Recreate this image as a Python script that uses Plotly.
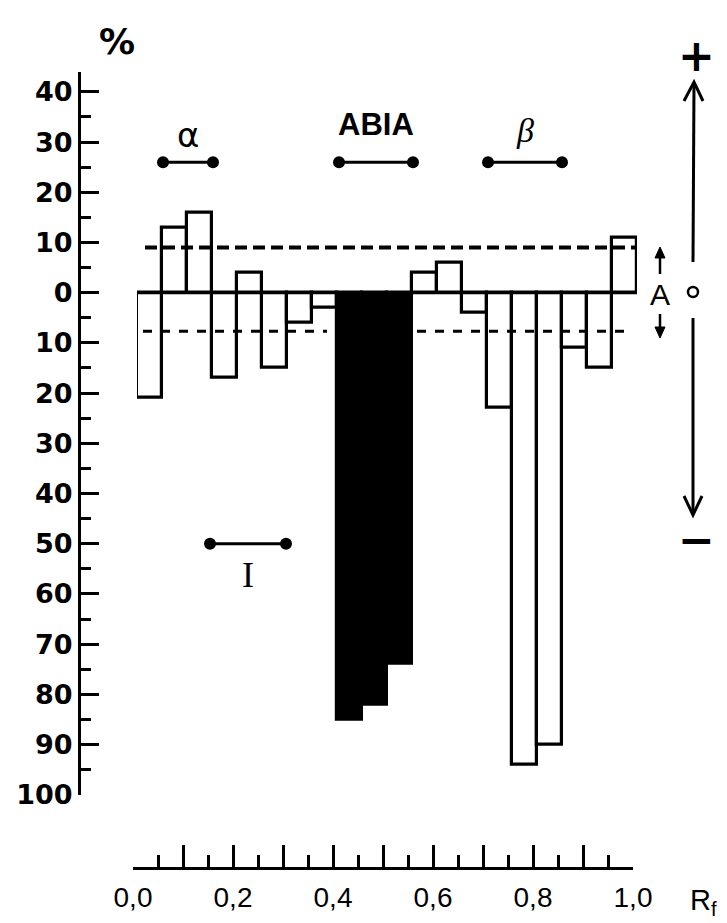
import plotly.graph_objects as go

W, H = 727, 923

# ---- data -------------------------------------------------------------
rf_centers = [0.025, 0.075, 0.125, 0.175, 0.225, 0.275, 0.325, 0.375, 0.425, 0.475,
              0.525, 0.575, 0.625, 0.675, 0.725, 0.775, 0.825, 0.875, 0.925, 0.975]
effect_pct = [-21, 13, 16, -17, 4, -15, -6, -3, -85, -82,
              -74, 4, 6, -4, -23, -94, -90, -11, -15, 11]
abia_zone = [0, 0, 0, 0, 0, 0, 0, 0, 1, 1,
             1, 0, 0, 0, 0, 0, 0, 0, 0, 0]
limit_upper = 9
limit_lower = -7.7

zone_names = ["α", "ABIA", "<i>β</i>", "I"]
zone_start = [0.052, 0.404, 0.702, 0.146]
zone_end = [0.152, 0.552, 0.850, 0.298]
zone_level = [26, 26, 26, -50]

y_tickvals = [40, 30, 20, 10, 0, -10, -20, -30, -40, -50, -60, -70, -80, -90, -100]
y_ticktext = ["40", "30", "20", "10", "0", "10", "20", "30", "40", "50",
              "60", "70", "80", "90", "100"]
y_minorvals = [35, 25, 15, 5, -5, -15, -25, -35, -45, -55, -65, -75, -85, -95]
rf_tickvals = [0.0, 0.1, 0.2, 0.3, 0.4, 0.5, 0.6, 0.7, 0.8, 0.9, 1.0]
rf_minorvals = [0.05, 0.15, 0.25, 0.35, 0.45, 0.55, 0.65, 0.75, 0.85, 0.95]
rf_labelvals = [0.0, 0.2, 0.4, 0.6, 0.8, 1.0]
rf_labeltext = ["0,0", "0,2", "0,4", "0,6", "0,8", "1,0"]

# ---- helpers (pixel -> paper) ------------------------------------------
def X(px):
    return px / W


def Y(py):
    return 1 - py / H


BLACK = "black"
fig = go.Figure()

colors = [BLACK if a else "white" for a in abia_zone]
fig.add_trace(go.Bar(
    x=rf_centers, y=effect_pct, width=0.05,
    marker=dict(color=colors, line=dict(color=BLACK, width=3.2)),
    xaxis="x", yaxis="y", hoverinfo="skip",
))

# threshold dashed lines
fig.add_trace(go.Scatter(
    x=[0.016, 0.996], y=[limit_upper, limit_upper], mode="lines",
    line=dict(color=BLACK, width=4, dash="12px,6px"), hoverinfo="skip",
))
fig.add_trace(go.Scatter(
    x=[0.012, 0.38, None, 0.56, 0.992],
    y=[limit_lower, limit_lower, None, limit_lower, limit_lower], mode="lines",
    line=dict(color=BLACK, width=3, dash="9px,9px"), hoverinfo="skip",
))

# zone segments
zx, zy = [], []
for s, e, lv in zip(zone_start, zone_end, zone_level):
    zx += [s, e, None]
    zy += [lv, lv, None]
fig.add_trace(go.Scatter(
    x=zx, y=zy, mode="lines+markers",
    line=dict(color=BLACK, width=3), marker=dict(color=BLACK, size=12),
    hoverinfo="skip", cliponaxis=False,
))

# dummy traces for the Rf scale axes
fig.add_trace(go.Scatter(x=[0, 1], y=[None, None], xaxis="x2", yaxis="y",
                         mode="markers", hoverinfo="skip", showlegend=False))
fig.add_trace(go.Scatter(x=[0, 1], y=[None, None], xaxis="x3", yaxis="y",
                         mode="markers", hoverinfo="skip", showlegend=False))

annotations = []
label_shift = [27, 38, 32, -31]
label_font = [
    dict(family="DejaVu Sans", size=34, color=BLACK),
    dict(family="Liberation Sans", size=31, color=BLACK, weight="bold"),
    dict(family="Liberation Serif", size=34, color=BLACK),
    dict(family="Liberation Serif", size=36, color=BLACK),
]
for name, s, e, lv, sh, f in zip(zone_names, zone_start, zone_end, zone_level, label_shift, label_font):
    annotations.append(dict(
        x=(s + e) / 2, y=lv, xref="x", yref="y", text=name, showarrow=False,
        yshift=sh, font=f, xanchor="center", yanchor="middle",
    ))


def txt(px, py, t, size, family="DejaVu Sans", xanchor="center", weight="normal"):
    annotations.append(dict(x=X(px), y=Y(py), xref="paper", yref="paper", text=t,
                            showarrow=False,
                            font=dict(family=family, size=size, color=BLACK, weight=weight),
                            xanchor=xanchor, yanchor="middle"))


txt(117, 42, "%", 36, weight="bold")
txt(660, 294, "A", 30, "Liberation Sans")
txt(696, 56, "+", 44, weight="bold")
txt(696, 539, "−", 44, weight="bold")
txt(688, 902, "R<sub>f</sub>", 29, "Liberation Sans", xanchor="left")

shapes = []


def seg(x0, y0, x1, y1, w=3):
    shapes.append(dict(type="line", xref="paper", yref="paper", x0=X(x0), y0=Y(y0),
                       x1=X(x1), y1=Y(y1), line=dict(color=BLACK, width=w)))


def path(points, fill=None, w=3):
    d = "M " + " L ".join(f"{X(a):.5f},{Y(b):.5f}" for a, b in points)
    if fill:
        d += " Z"
    shapes.append(dict(type="path", xref="paper", yref="paper", path=d,
                       line=dict(color=BLACK, width=w),
                       fillcolor=fill if fill else "rgba(0,0,0,0)"))


# zero line across bars
shapes.append(dict(type="line", xref="x", yref="y", x0=0, x1=1, y0=0, y1=0,
                   line=dict(color=BLACK, width=3)))

# big +/- arrow on the right
seg(693, 262, 694, 84)
path([(684, 101), (694, 82), (703, 101)])
seg(693, 318, 693, 512)
path([(684, 496), (693, 515), (702, 496)])
shapes.append(dict(type="circle", xref="paper", yref="paper",
                   x0=X(688), x1=X(698), y0=Y(297), y1=Y(287),
                   line=dict(color=BLACK, width=2.5)))
# small arrows around A
seg(660, 274, 660, 254, w=2.5)
path([(655, 258), (660, 247), (665, 258)], fill=BLACK, w=1)
seg(660, 314, 660, 330, w=2.5)
path([(655, 327), (660, 338), (665, 327)], fill=BLACK, w=1)

y_top_px, y_bot_px = 71.8, 794.7
rf_left, rf_right, rf_base = 133, 633, 868

fig.update_layout(
    width=W, height=H, autosize=False,
    margin=dict(l=0, r=0, t=0, b=0, pad=0, autoexpand=False),
    paper_bgcolor="white", plot_bgcolor="rgba(0,0,0,0)",
    showlegend=False, bargap=0,
    shapes=shapes, annotations=annotations,
    xaxis=dict(domain=[X(137), X(637)], range=[0, 1], visible=False, anchor="y",
               fixedrange=True, automargin=False),
    yaxis=dict(domain=[Y(y_bot_px), Y(y_top_px)], range=[-100, 44], anchor="free",
               position=X(79), showline=True, linewidth=3, linecolor=BLACK,
               ticks="inside", ticklen=18, tickwidth=3, tickcolor=BLACK,
               tickmode="array", tickvals=y_tickvals, ticktext=y_ticktext,
               tickfont=dict(family="DejaVu Sans", size=27, color=BLACK, weight="bold"),
               showgrid=False, zeroline=False, fixedrange=True, automargin=False,
               minor=dict(tickmode="array", tickvals=y_minorvals, ticks="inside",
                          ticklen=10, tickwidth=3, tickcolor=BLACK, showgrid=False)),
    xaxis2=dict(domain=[X(rf_left), X(rf_right)], range=[0, 1], anchor="free",
                position=Y(rf_base), side="bottom", showline=True, linewidth=3,
                linecolor=BLACK, ticks="inside", ticklen=22, tickwidth=3,
                tickcolor=BLACK, tickmode="array", tickvals=rf_tickvals,
                showticklabels=False, automargin=False,
                showgrid=False, zeroline=False, fixedrange=True,
                minor=dict(tickmode="array", tickvals=rf_minorvals, ticks="inside",
                           ticklen=12, tickwidth=3, tickcolor=BLACK, showgrid=False)),
    xaxis3=dict(domain=[X(rf_left), X(rf_right)], range=[0, 1], anchor="free",
                overlaying="x2", position=Y(rf_base), side="bottom", showline=False,
                ticks="", tickmode="array", tickvals=rf_labelvals,
                ticktext=rf_labeltext, ticklabelstandoff=10, automargin=False,
                tickfont=dict(family="Liberation Sans", size=28, color=BLACK),
                showgrid=False, zeroline=False, fixedrange=True),
)

fig.write_html("out.html", config={"displayModeBar": False},
               post_script="document.body.style.margin='0';")
